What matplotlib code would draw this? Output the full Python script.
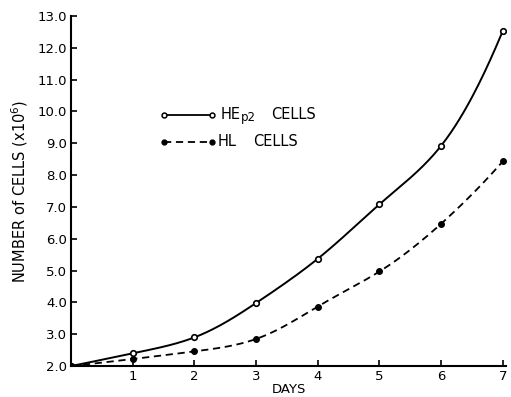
import numpy as np
import matplotlib
matplotlib.use('Agg')
import matplotlib.pyplot as plt

days = [0, 1, 2, 3, 4, 5, 6, 7]
hep2_cells = [2.0, 2.4, 2.9, 3.98, 5.37, 7.08, 8.92, 12.53]
hl_cells = [2.0, 2.22, 2.46, 2.85, 3.87, 4.97, 6.47, 8.43]
x_ticks = [1, 2, 3, 4, 5, 6, 7]
y_ticks = [2.0, 3.0, 4.0, 5.0, 6.0, 7.0, 8.0, 9.0, 10.0, 11.0, 12.0, 13.0]


def spline(xs, ys, num=300):
    # natural cubic spline on log values, only for drawing the smooth curve
    x = np.asarray(xs, float)
    y = np.log(np.asarray(ys, float))
    n = len(x)
    h = np.diff(x)
    A = np.zeros((n, n))
    b = np.zeros(n)
    A[0, 0] = A[-1, -1] = 1
    for i in range(1, n - 1):
        A[i, i - 1] = h[i - 1]
        A[i, i] = 2 * (h[i - 1] + h[i])
        A[i, i + 1] = h[i]
        b[i] = 6 * ((y[i + 1] - y[i]) / h[i] - (y[i] - y[i - 1]) / h[i - 1])
    m = np.linalg.solve(A, b)
    xx = np.linspace(x[0], x[-1], num)
    idx = np.clip(np.searchsorted(x, xx) - 1, 0, n - 2)
    t = xx - x[idx]
    hi = h[idx]
    a = (m[idx + 1] - m[idx]) / (6 * hi)
    bb = m[idx] / 2
    c = (y[idx + 1] - y[idx]) / hi - hi * (2 * m[idx] + m[idx + 1]) / 6
    return xx, np.exp(y[idx] + c * t + bb * t ** 2 + a * t ** 3)


fig = plt.figure(figsize=(5.11, 3.97), dpi=100)
ax = fig.add_axes([0.139, 0.078, 0.851, 0.882])

sx, sy = spline(days, hep2_cells)
ax.plot(sx, sy, '-', color='black', lw=1.4)
sx, sy = spline(days, hl_cells)
ax.plot(sx, sy, '--', color='black', lw=1.3, dashes=(4, 2.6))
ax.plot(days, hep2_cells, 'o', ms=4, mfc='white', mec='black', mew=1.2)
ax.plot(days, hl_cells, 'o', ms=4, color='black')

# legend drawn by hand
ax.plot([1.51, 2.28], [9.89, 9.89], '-', color='black', lw=1.3)
ax.plot([1.51, 2.28], [9.89, 9.89], 'o', ms=3.5, mfc='white', mec='black', mew=1.1)
ax.plot([1.51, 2.28], [9.04, 9.04], '--', color='black', lw=1.3, dashes=(4, 2.6))
ax.plot([1.51, 2.28], [9.04, 9.04], 'o', ms=3.5, color='black')
ax.text(2.42, 9.89, 'HE', fontsize=10.5, va='center', ha='left')
ax.text(2.75, 9.80, 'p2', fontsize=8.5, va='center', ha='left')
ax.text(3.24, 9.89, 'CELLS', fontsize=10.5, va='center', ha='left')
ax.text(2.38, 9.04, 'HL', fontsize=10.5, va='center', ha='left')
ax.text(2.96, 9.04, 'CELLS', fontsize=10.5, va='center', ha='left')

ax.set_xlim(0, 7.05)
ax.set_ylim(2.0, 13.0)
ax.set_xticks(x_ticks)
ax.set_yticks(y_ticks)
ax.set_yticklabels(['%.1f' % v for v in y_ticks])
ax.tick_params(direction='in', length=4, width=1.2, labelsize=9.5, pad=3)
for s in ['top', 'right']:
    ax.spines[s].set_visible(False)
for s in ['left', 'bottom']:
    ax.spines[s].set_linewidth(1.5)

ax.set_xlabel('DAYS', fontsize=9.5, labelpad=0)
ax.set_ylabel('NUMBER of CELLS (x10$^6$)', fontsize=10.5, labelpad=5)

fig.savefig('out.png', dpi=100)
